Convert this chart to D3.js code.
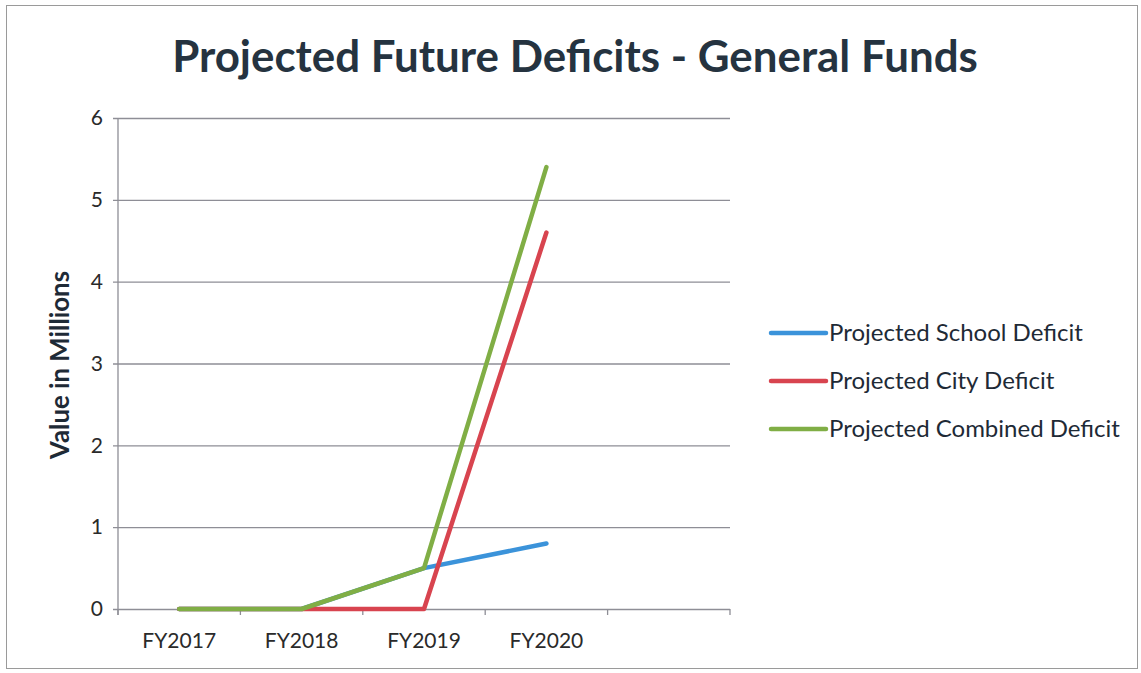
<!DOCTYPE html>
<html>
<head>
<meta charset="utf-8">
<script src="https://cdn.jsdelivr.net/npm/d3@7"></script>
<style>
  html, body { margin: 0; padding: 0; background: #fff; }
  svg { display: block; }
  svg text { font-family: Lato, "Noto Sans", sans-serif; }
</style>
</head>
<body>
<svg id="chart" width="1141" height="673"></svg>
<script>
// Fiscal-year categories (the last slot is an empty category on the axis)
const categories = ["FY2017", "FY2018", "FY2019", "FY2020", ""];
const yTicks = [0, 1, 2, 3, 4, 5, 6];

// Deficits in millions of dollars
const schoolDeficit   = [0, 0, 0.5, 0.8];
const cityDeficit     = [0, 0, 0, 4.6];
const combinedDeficit = [0, 0, 0.5, 5.4];

const seriesNames = ["Projected School Deficit", "Projected City Deficit", "Projected Combined Deficit"];
const seriesColors = ["#3b93da", "#d8444f", "#80ae45"];
const seriesValues = [schoolDeficit, cityDeficit, combinedDeficit];

const svg = d3.select("#chart");

// Shrinks or grows a text element's font so it spans the given width
function fitWidth(sel, base, width) {
  const w = sel.node().getComputedTextLength();
  sel.style("font-size", (base * width / w).toFixed(2) + "px");
}

// Outer chart frame
svg.append("rect")
  .attr("x", 6.5).attr("y", 5.5)
  .attr("width", 1131).attr("height", 663)
  .attr("fill", "none").attr("stroke", "#9a9a9a").attr("stroke-width", 1);

const plot = { left: 118, right: 730, top: 118, bottom: 609 };

const x = d3.scaleBand().domain(categories).range([plot.left, plot.right]);
const y = d3.scaleLinear().domain([0, 6]).range([plot.bottom, plot.top]);

// Horizontal gridlines with outside tick marks
const yAxis = svg.append("g")
  .attr("transform", `translate(${plot.left},0)`)
  .call(d3.axisLeft(y).tickValues(yTicks).tickSize(0).tickPadding(15).tickFormat(d3.format("d")));
yAxis.attr("font-family", null).attr("font-size", null);
yAxis.select(".domain").remove();
yAxis.selectAll(".tick").append("line")
  .attr("x1", -5).attr("x2", plot.right - plot.left)
  .attr("stroke", "#8e8e96").attr("stroke-width", 1.3);
yAxis.selectAll(".tick text")
  .attr("fill", "#2a2a2a").style("font-size", "21px");

// Vertical axis line
svg.append("line")
  .attr("x1", plot.left).attr("x2", plot.left)
  .attr("y1", plot.top).attr("y2", plot.bottom + 6)
  .attr("stroke", "#8e8e96").attr("stroke-width", 1.3);

// Category axis: labels centred in each band, ticks on band boundaries
const xAxis = svg.append("g")
  .attr("transform", `translate(0,${plot.bottom})`)
  .call(d3.axisBottom(x).tickSize(0).tickPadding(24));
xAxis.attr("font-family", null).attr("font-size", null);
xAxis.select(".domain").remove();
xAxis.selectAll(".tick text")
  .attr("fill", "#2a2a2a").style("font-size", "21px");

const boundaries = categories.map(c => x(c)).concat([x.range()[1]]);
svg.append("g").selectAll("line")
  .data(boundaries)
  .join("line")
  .attr("x1", d => d).attr("x2", d => d)
  .attr("y1", plot.bottom).attr("y2", plot.bottom + 6)
  .attr("stroke", "#8e8e96").attr("stroke-width", 1.3);

// Series lines
const line = d3.line()
  .x((d, i) => x(categories[i]) + x.bandwidth() / 2)
  .y(d => y(d));

svg.append("g").selectAll("path")
  .data(seriesValues)
  .join("path")
  .attr("d", d => line(d))
  .attr("fill", "none")
  .attr("stroke", (d, i) => seriesColors[i])
  .attr("stroke-width", 4.5)
  .attr("stroke-linecap", "round")
  .attr("stroke-linejoin", "round");

// Title
const title = svg.append("text")
  .attr("x", 575).attr("y", 72)
  .attr("text-anchor", "middle")
  .attr("fill", "#253340")
  .style("font-weight", "bold")
  .style("font-size", "36px")
  .text("Projected Future Deficits - General Funds");
fitWidth(title, 36, 806);

// Y axis title
const yTitle = svg.append("text")
  .attr("transform", "translate(69,365) rotate(-90)")
  .attr("text-anchor", "middle")
  .attr("fill", "#1e2a36")
  .style("font-weight", "bold")
  .style("font-size", "20px")
  .text("Value in Millions");
fitWidth(yTitle, 20, 188);

// Legend
const legend = svg.append("g").selectAll("g")
  .data(seriesNames)
  .join("g")
  .attr("transform", (d, i) => `translate(771,${333 + i * 48})`);
legend.append("line")
  .attr("x1", 0).attr("x2", 55)
  .attr("stroke", (d, i) => seriesColors[i])
  .attr("stroke-width", 4.5)
  .attr("stroke-linecap", "round");
legend.append("text")
  .attr("x", 58).attr("y", 8)
  .attr("fill", "#1e2a36")
  .style("font-size", "24px")
  .text(d => d);
</script>
</body>
</html>
